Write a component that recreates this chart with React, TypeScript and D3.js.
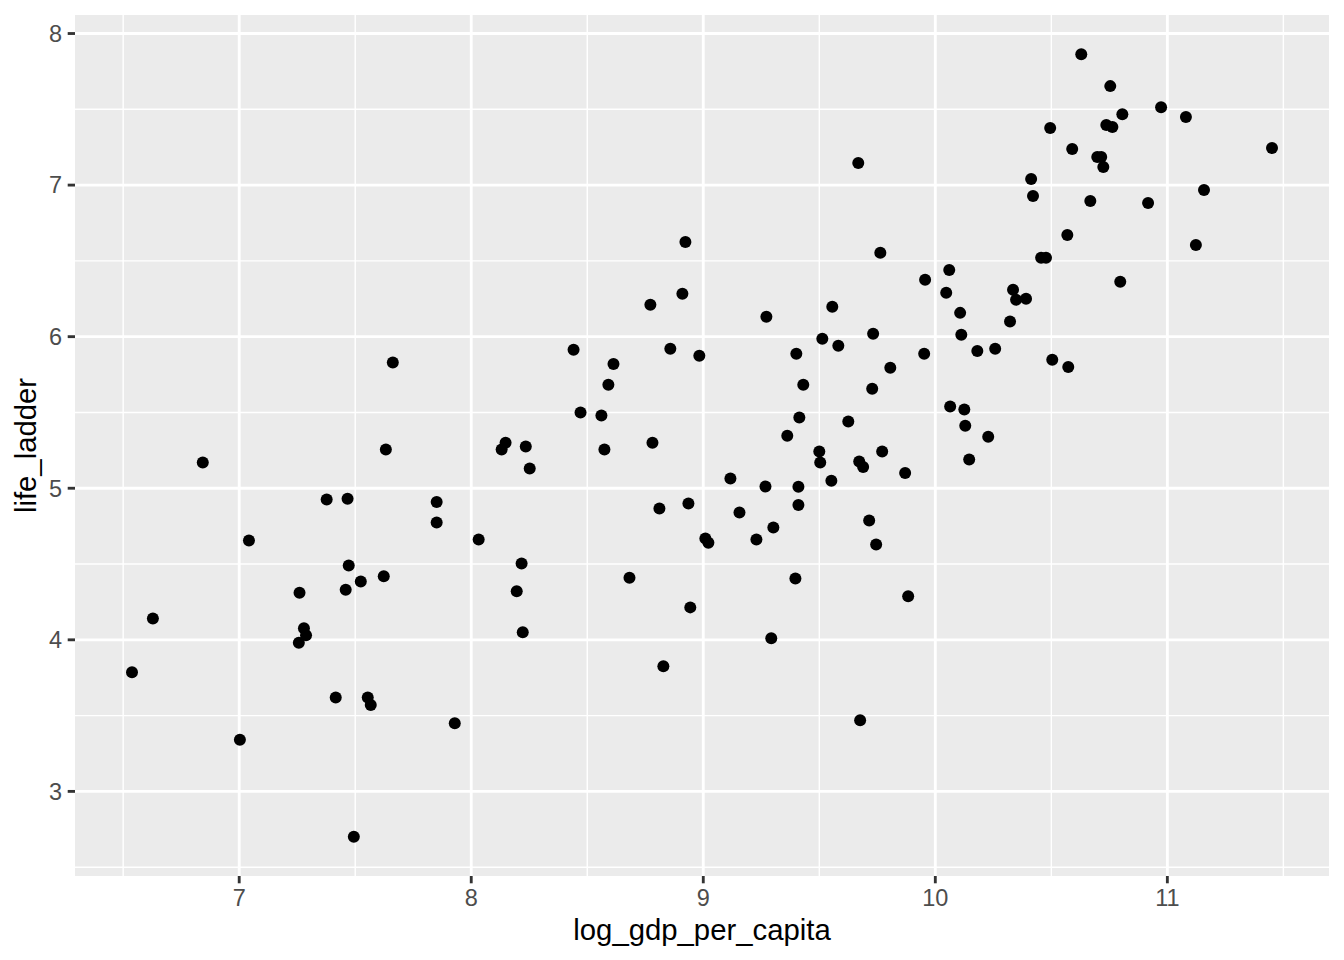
import React from "react";
import * as d3 from "d3";

const gdp: number[] = [
  6.538, 6.628, 6.843, 7.003, 7.042, 7.26, 7.257, 7.279, 7.288, 7.377,
  7.416, 7.467, 7.472, 7.459, 7.494, 7.524, 7.554, 7.567, 7.623, 7.632,
  7.662, 7.851, 7.851, 7.929, 8.032, 8.131, 8.148, 8.196, 8.217, 8.222,
  8.235, 8.252, 8.441, 8.471, 8.561, 8.574, 8.591, 8.613, 8.682, 8.772,
  8.781, 8.811, 8.828, 8.858, 8.91, 8.923, 8.936, 8.944, 8.983, 9.009,
  9.022, 9.117, 9.156, 9.229, 9.268, 9.272, 9.293, 9.302, 9.362, 9.397,
  9.401, 9.41, 9.41, 9.414, 9.431, 9.5, 9.504, 9.513, 9.552, 9.556,
  9.582, 9.625, 9.668, 9.672, 9.676, 9.689, 9.715, 9.728, 9.732, 9.745,
  9.763, 9.771, 9.806, 9.87, 9.883, 9.952, 9.956, 10.047, 10.06, 10.064,
  10.107, 10.112, 10.125, 10.129, 10.146, 10.181, 10.228, 10.258, 10.322, 10.335,
  10.348, 10.391, 10.413, 10.421, 10.456, 10.477, 10.495, 10.504, 10.569, 10.573,
  10.59, 10.629, 10.668, 10.698, 10.715, 10.724, 10.737, 10.754, 10.763, 10.797,
  10.806, 10.917, 10.973, 11.08, 11.123, 11.158, 11.451,
];

const lifeLadder: number[] = [
  3.786, 4.14, 5.17, 3.34, 4.655, 4.31, 3.98, 4.076, 4.03, 4.926,
  3.62, 4.93, 4.49, 4.33, 2.7, 4.385, 3.62, 3.57, 4.42, 5.255,
  5.83, 4.91, 4.774, 3.45, 4.662, 5.255, 5.3, 4.32, 4.504, 4.05,
  5.275, 5.13, 5.914, 5.5, 5.48, 5.255, 5.683, 5.82, 4.41, 6.21,
  5.3, 4.866, 3.825, 5.92, 6.283, 6.625, 4.9, 4.214, 5.874, 4.668,
  4.64, 5.064, 4.84, 4.662, 5.011, 6.131, 4.01, 4.741, 5.347, 4.405,
  5.887, 4.89, 5.01, 5.466, 5.683, 5.242, 5.17, 5.986, 5.05, 6.197,
  5.94, 5.44, 7.146, 5.176, 3.47, 5.14, 4.787, 5.657, 6.019, 4.629,
  6.553, 5.242, 5.795, 5.1, 4.287, 5.887, 6.375, 6.29, 6.44, 5.54,
  6.157, 6.013, 5.52, 5.413, 5.19, 5.906, 5.34, 5.92, 6.1, 6.31,
  6.243, 6.25, 7.04, 6.928, 6.52, 6.52, 7.376, 5.848, 6.671, 5.8,
  7.238, 7.864, 6.895, 7.185, 7.185, 7.12, 7.396, 7.653, 7.383, 6.362,
  7.468, 6.882, 7.514, 7.449, 6.605, 6.968, 7.244,
];

const xMajor: number[] = [7, 8, 9, 10, 11];
const xMinor: number[] = [6.5, 7.5, 8.5, 9.5, 10.5, 11.5];
const yMajor: number[] = [3, 4, 5, 6, 7, 8];
const yMinor: number[] = [2.5, 3.5, 4.5, 5.5, 6.5, 7.5];

const xTitle = "log_gdp_per_capita";
const yTitle = "life_ladder";

export default function App() {
  const W = 1344;
  const H = 960;
  const left = 75;
  const right = 1329;
  const top = 15;
  const bottom = 876;

  const xExt = d3.extent(gdp) as [number, number];
  const yExt = d3.extent(lifeLadder) as [number, number];
  const xPad = (xExt[1] - xExt[0]) * 0.05;
  const yPad = (yExt[1] - yExt[0]) * 0.05;

  const x = d3.scaleLinear().domain([xExt[0] - xPad, xExt[1] + xPad]).range([left, right]);
  const y = d3.scaleLinear().domain([yExt[0] - yPad, yExt[1] + yPad]).range([bottom, top]);

  const font = "'Liberation Sans', Arial, Helvetica, sans-serif";
  const majorW = 2.85;
  const minorW = 1.42;

  return (
    <svg
      width={W}
      height={H}
      style={{ position: "absolute", left: 0, top: 0, background: "white" }}
      fontFamily={font}
    >
      <rect x={left} y={top} width={right - left} height={bottom - top} fill="#EBEBEB" />
      {xMinor.map((v) => (
        <line key={"xm" + v} x1={x(v)} x2={x(v)} y1={top} y2={bottom} stroke="white" strokeWidth={minorW} />
      ))}
      {yMinor.map((v) => (
        <line key={"ym" + v} x1={left} x2={right} y1={y(v)} y2={y(v)} stroke="white" strokeWidth={minorW} />
      ))}
      {xMajor.map((v) => (
        <line key={"xM" + v} x1={x(v)} x2={x(v)} y1={top} y2={bottom} stroke="white" strokeWidth={majorW} />
      ))}
      {yMajor.map((v) => (
        <line key={"yM" + v} x1={left} x2={right} y1={y(v)} y2={y(v)} stroke="white" strokeWidth={majorW} />
      ))}
      {gdp.map((g, i) => (
        <circle key={"p" + i} cx={x(g)} cy={y(lifeLadder[i])} r={6} fill="black" />
      ))}
      {xMajor.map((v) => (
        <g key={"xt" + v}>
          <line x1={x(v)} x2={x(v)} y1={bottom} y2={bottom + 7.3} stroke="#333333" strokeWidth={majorW} />
          <text x={x(v)} y={906} textAnchor="middle" fontSize={23.5} fill="#4D4D4D">
            {v}
          </text>
        </g>
      ))}
      {yMajor.map((v) => (
        <g key={"yt" + v}>
          <line x1={left - 7.3} x2={left} y1={y(v)} y2={y(v)} stroke="#333333" strokeWidth={majorW} />
          <text x={62} y={y(v) + 8.4} textAnchor="end" fontSize={23.5} fill="#4D4D4D">
            {v}
          </text>
        </g>
      ))}
      <text x={(left + right) / 2} y={940} textAnchor="middle" fontSize={29.3} fill="black">
        {xTitle}
      </text>
      <text
        transform={`translate(36, ${(top + bottom) / 2}) rotate(-90)`}
        textAnchor="middle"
        fontSize={29.3}
        fill="black"
      >
        {yTitle}
      </text>
    </svg>
  );
}
